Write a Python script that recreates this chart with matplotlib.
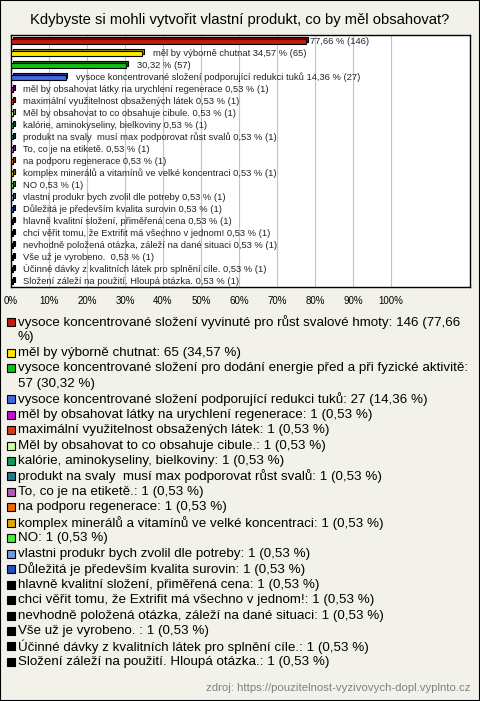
import matplotlib.pyplot as plt
from matplotlib.patches import Rectangle
from matplotlib.font_manager import FontProperties

plt.rcParams['font.family'] = ['Liberation Sans', 'DejaVu Sans']

title = "Kdybyste si mohli vytvořit vlastní produkt, co by měl obsahovat?"
source = "zdroj: https://pouzitelnost-vyzivovych-dopl.vyplnto.cz"

names = [
    "vysoce koncentrované složení vyvinuté pro růst svalové hmoty",
    "měl by výborně chutnat",
    "vysoce koncentrované složení pro dodání energie před a při fyzické aktivitě",
    "vysoce koncentrované složení podporující redukci tuků",
    "měl by obsahovat látky na urychlení regenerace",
    "maximální využitelnost obsažených látek",
    "Měl by obsahovat to co obsahuje cibule.",
    "kalórie, aminokyseliny, bielkoviny",
    "produkt na svaly  musí max podporovat růst svalů",
    "To, co je na etiketě.",
    "na podporu regenerace",
    "komplex minerálů a vitamínů ve velké koncentraci",
    "NO",
    "vlastni produkr bych zvolil dle potreby",
    "Důležitá je především kvalita surovin",
    "hlavně kvalitní složení, přiměřená cena",
    "chci věřit tomu, že Extrifit má všechno v jednom!",
    "nevhodně položená otázka, záleží na dané situaci",
    "Vše už je vyrobeno. ",
    "Účinné dávky z kvalitních látek pro splnění cíle.",
    "Složení záleží na použití. Hloupá otázka.",
]
counts = [146, 65, 57, 27] + [1] * 17
percents = [77.66, 34.57, 30.32, 14.36] + [0.53] * 17
# the chart shows only the value next to these long bars
name_in_bar = [False, True, False, True] + [True] * 17

colors = ["#c8180c", "#ffe800", "#10c010", "#4466e0", "#c010c8", "#dd3a10",
          "#ccff99", "#109858", "#207888", "#b858b8", "#e86a00", "#ddaa00",
          "#44ee33", "#6e9ae8", "#2250b8"] + ["#000000"] * 6
shadows = ["#800000", "#a09000", "#087008", "#223a90", "#700070", "#802000",
           "#88aa66", "#085530", "#104550", "#703070", "#904000", "#886600",
           "#229918", "#40609a", "#10306a"] + ["#000000"] * 6


def fmt(p):
    return f"{p:.2f}".replace(".", ",")


W, H = 480, 701
bg = "#f3f2ea"
fig = plt.figure(figsize=(W / 100, H / 100), dpi=100, facecolor=bg)
fig.patches.append(Rectangle((0, 0), 1, 1, transform=fig.transFigure,
                             fill=False, ec="black", lw=1.5))

fig.text(0.5, 1 - 20 / H, title, ha="center", va="center", fontsize=10.6)

n = len(names)
ax = fig.add_axes([11 / W, 1 - 287 / H, 459 / W, 252 / H])
ax.set_facecolor("white")
ax.set_xlim(0, 120.8)
ax.set_ylim(n - 0.5, -0.5)

# 3d-ish bars: dark shadow offset up/right, then the face
xs = 120.8 / 459 * 1.6
ys = 1.6 / 12
bh = 5 / 12
for i in range(n):
    ax.barh(i - ys, percents[i], left=xs, height=bh, color=shadows[i],
            edgecolor="black", lw=0.8, zorder=3)
    ax.barh(i, percents[i], height=bh, color=colors[i],
            edgecolor="black", lw=0.8, zorder=4)
    lab = f"{fmt(percents[i])} % ({counts[i]})"
    if name_in_bar[i]:
        lab = f"{names[i]} {lab}"
    gap = 3 if i == 0 else 7.5
    ax.annotate(lab, xy=(percents[i], i), xytext=(gap, 0),
                textcoords="offset points", va="center", fontsize=6.75,
                color="#222222", zorder=5)

ax.set_xticks(range(0, 101, 10))
ax.set_xticklabels([f"{t}%" for t in range(0, 101, 10)], fontsize=7)
ax.set_yticks([])
ax.tick_params(axis="x", length=0, pad=6.5)
ax.grid(axis="x", color="#c4c4c4", lw=0.8)
ax.set_axisbelow(True)
for s in ax.spines.values():
    s.set_linewidth(1)

# legend, wrapped to the width of the panel
renderer = fig.canvas.get_renderer()
fp = FontProperties(family=['Liberation Sans'], size=9.6)
maxw = 455


def wrap(s):
    words = s.split(" ")
    lines, cur = [], ""
    for w in words:
        t = w if cur == "" else cur + " " + w
        wd = renderer.get_text_width_height_descent(t, fp, ismath=False)[0]
        if wd > maxw and cur:
            lines.append(cur)
            cur = w
        else:
            cur = t
    lines.append(cur)
    return lines


y = 322
step = 15.45
for i in range(n):
    lines = wrap(f"{names[i]}: {counts[i]} ({fmt(percents[i])} %)")
    fig.patches.append(Rectangle((7 / W, 1 - (y + 4) / H), 8 / W, 8 / H,
                                 transform=fig.transFigure, fc=colors[i],
                                 ec="black", lw=0.8))
    for ln in lines:
        fig.text(18 / W, 1 - y / H, ln, va="center", fontproperties=fp)
        y += step

fig.text(470 / W, 1 - 688 / H, source, ha="right", va="center",
         fontsize=8.2, color="#808080")

fig.savefig("out.png", dpi=100, facecolor=bg)
